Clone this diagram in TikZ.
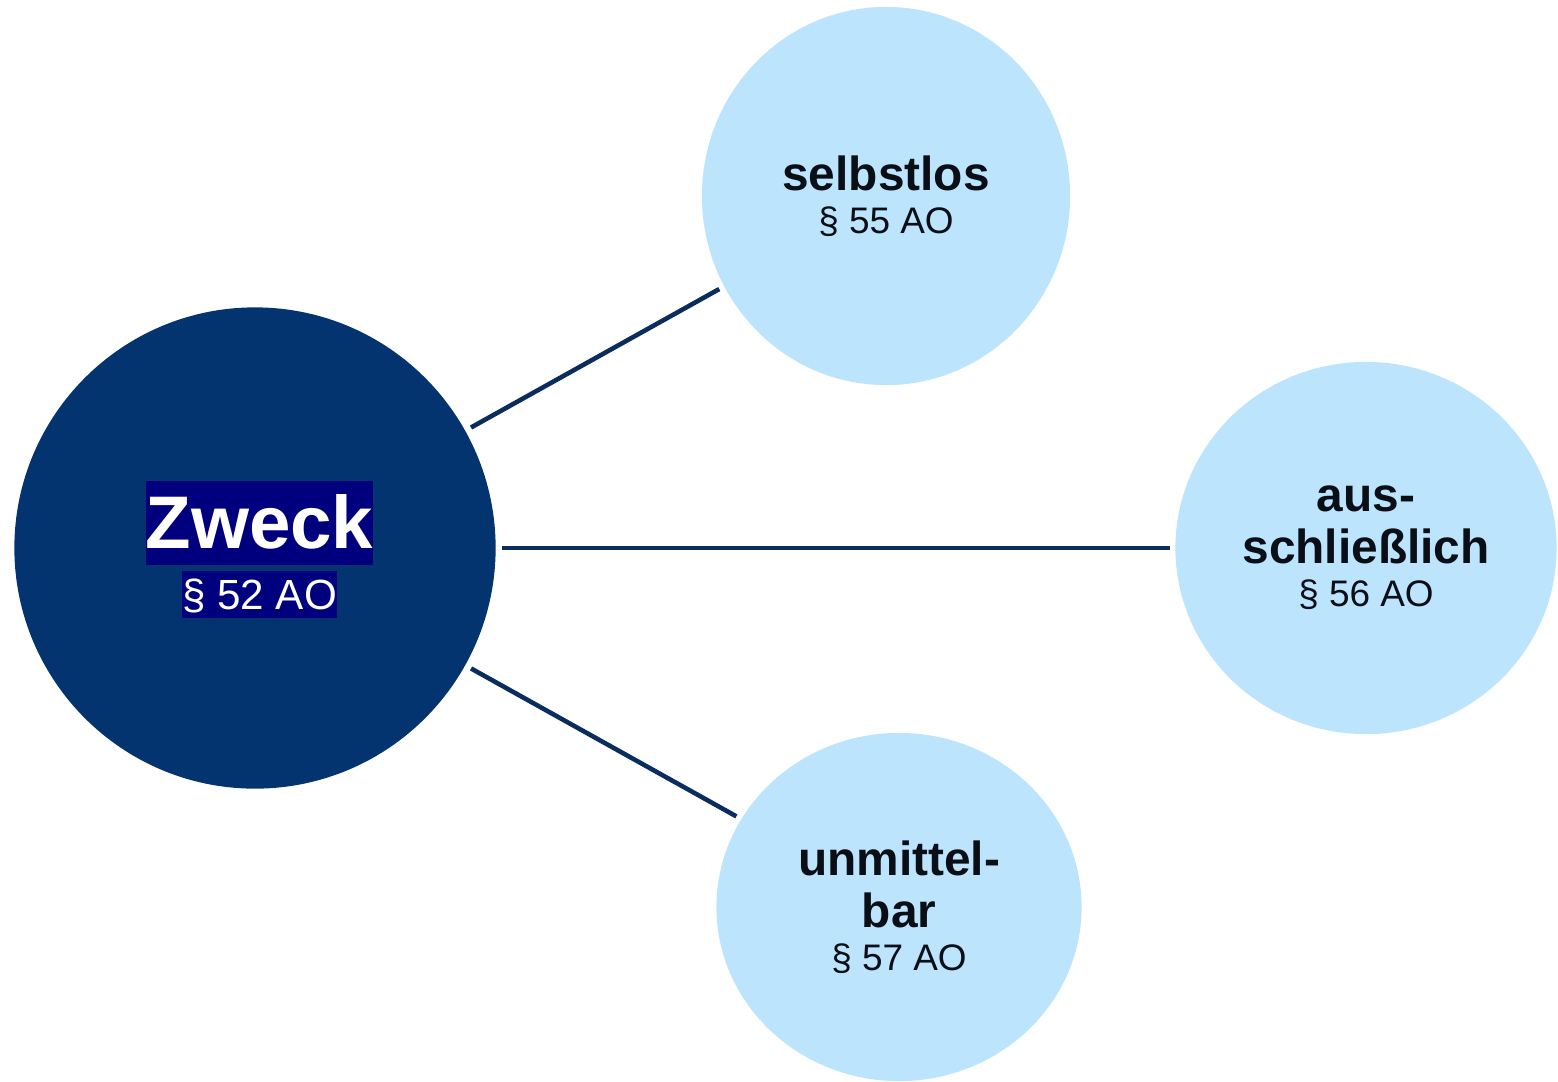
\documentclass[tikz,border=0pt]{standalone}
\usepackage{fontspec}
\setmainfont{Liberation Sans}
\usetikzlibrary{positioning,shapes.geometric}
\definecolor{zweckblue}{HTML}{03346F}
\definecolor{hlblue}{HTML}{00007F}
\definecolor{leafblue}{HTML}{BDE4FD}
\definecolor{linkblue}{HTML}{0A2D5E}
\definecolor{ink}{HTML}{0A0E17}
\newcommand{\para}[1]{{\fontsize{10.5}{11.8}\selectfont § #1 AO}}

\begin{document}
\begin{tikzpicture}[x=0.01cm, y=-0.01cm,
    leaf/.style={ellipse, fill=leafblue, inner sep=0pt, align=center, text=ink,
      font=\fontsize{13.6}{14.8}\selectfont},
    hl/.style={fill=hlblue, text=white, inner sep=0pt},
    link/.style={draw=linkblue, line width=1.3pt, shorten <=0.06cm, shorten >=0.05cm}]
  \useasboundingbox (0,0) rectangle (1558,1081);
  \node (zweck) [circle, fill=zweckblue, minimum size=4.81cm] at (255,548) {};
  \node (zwtitle) [hl, text height=19.2pt, text depth=4.5pt, font=\fontsize{21.2}{24}\bfseries] at (259.5,523) {Zweck};
  \node (zwpara) [hl, text height=10.86pt, text depth=2.54pt, font=\fontsize{12}{14}\selectfont, below=1.4pt of zwtitle] {§ 52 AO};
  \node (selbst) [leaf, minimum width=3.68cm, minimum height=3.78cm] at (886,196) {\textbf{selbstlos}\\[-2.6pt]\para{55}};
  \node (aussch) [leaf, minimum width=3.81cm, minimum height=3.72cm] at (1366,548) {\textbf{aus-}\\\textbf{schließlich}\\[-2.6pt]\para{56}};
  \node (unmit) [leaf, minimum width=3.65cm, minimum height=3.48cm] at (899,907) {\textbf{unmittel-}\\\textbf{bar}\\[-2.6pt]\para{57}};
  \draw[link] (zweck) -- (selbst);
  \draw[link] (zweck) -- (aussch);
  \draw[link] (zweck) -- (unmit);
\end{tikzpicture}
\end{document}
